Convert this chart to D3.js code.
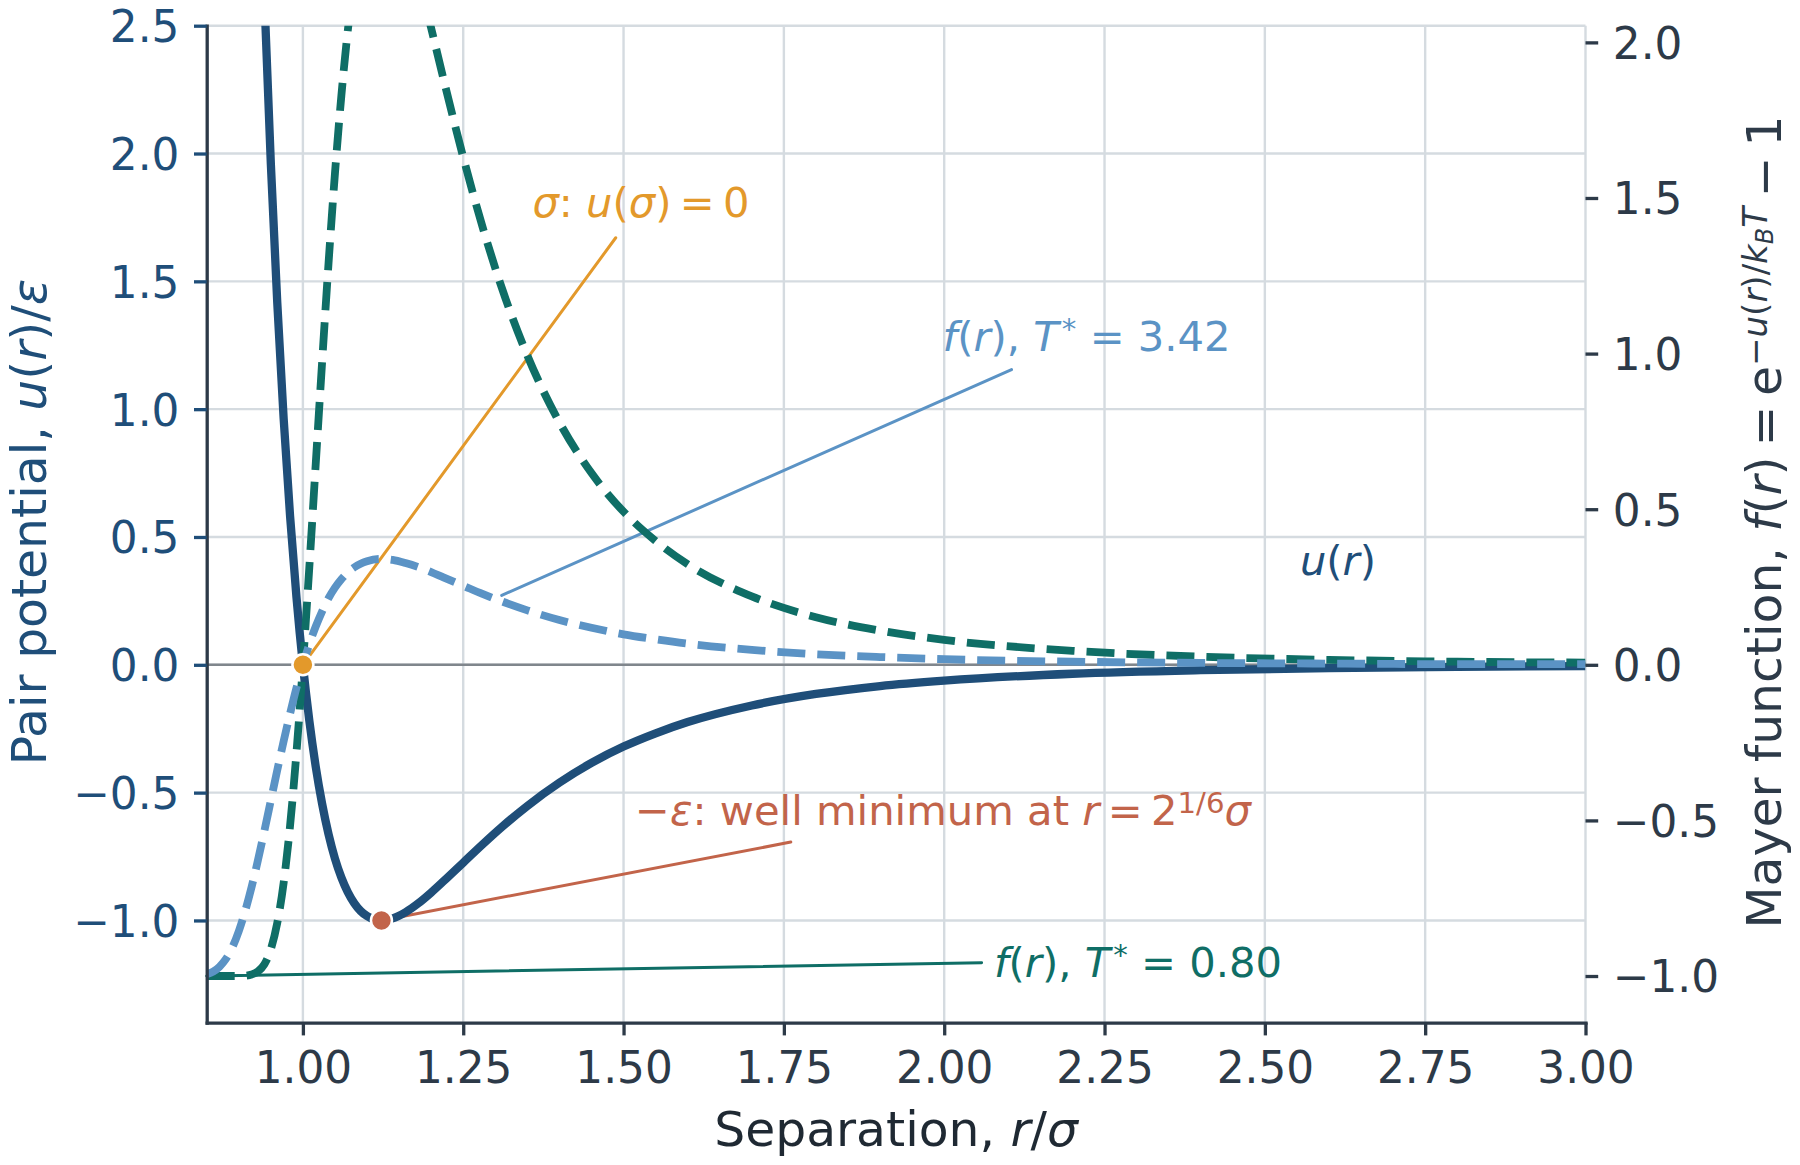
<!DOCTYPE html>
<html><head><meta charset="utf-8">
<script src="https://cdn.jsdelivr.net/npm/d3@7"></script>
<style>
html,body{margin:0;padding:0;background:#fff;}
svg{display:block;}
text{font-family:"DejaVu Sans",sans-serif;white-space:pre;}
</style>
</head><body>
<svg id="chart" width="1800" height="1165"></svg>
<script>
// ---------- data ----------
const rValues = [0.85,0.86,0.87,0.88,0.89,0.90,0.91,0.92,0.93,0.94,0.95,0.96,0.97,0.98,0.99,1.00,
  1.01,1.02,1.03,1.04,1.05,1.06,1.07,1.08,1.09,1.10,1.12,1.1225,1.14,1.16,1.18,1.20,1.22,1.25,1.28,1.31,
  1.35,1.40,1.45,1.50,1.55,1.60,1.70,1.80,1.90,2.00,2.20,2.40,2.60,2.80,3.00];
// pair potential u(r)/epsilon (left axis)
const uValues = [17.515,14.552,12.048,9.934,8.146,6.636,5.360,4.283,3.373,2.607,1.961,1.418,0.963,0.582,0.264,0.000,
  -0.218,-0.398,-0.544,-0.663,-0.758,-0.832,-0.889,-0.932,-0.963,-0.983,-1.000,-1.000,-0.992,-0.968,-0.933,-0.891,-0.845,-0.774,-0.703,-0.635,
  -0.552,-0.461,-0.384,-0.320,-0.268,-0.224,-0.159,-0.114,-0.083,-0.062,-0.035,-0.021,-0.013,-0.008,-0.005];
// Mayer function, T* = 0.80 (right axis)
const fLowT = [-1.000,-1.000,-1.000,-1.000,-1.000,-1.000,-0.999,-0.995,-0.985,-0.962,-0.914,-0.830,-0.700,-0.517,-0.281,0.000,
  0.313,0.645,0.974,1.291,1.579,1.829,2.038,2.206,2.333,2.417,2.490,2.490,2.456,2.353,2.210,2.046,1.876,1.631,1.408,1.212,
  0.994,0.779,0.616,0.492,0.398,0.323,0.220,0.153,0.110,0.080,0.045,0.026,0.016,0.010,0.007];
// Mayer function, T* = 3.42 (right axis)
const fHighT = [-0.994,-0.986,-0.970,-0.945,-0.908,-0.856,-0.791,-0.714,-0.627,-0.533,-0.436,-0.339,-0.245,-0.157,-0.074,0.000,
  0.066,0.123,0.172,0.214,0.248,0.275,0.297,0.313,0.325,0.333,0.340,0.340,0.337,0.327,0.314,0.298,0.280,0.254,0.228,0.204,
  0.175,0.144,0.119,0.098,0.082,0.068,0.048,0.034,0.025,0.018,0.010,0.006,0.004,0.002,0.002];

const xTicks = [1.00,1.25,1.50,1.75,2.00,2.25,2.50,2.75,3.00];
const leftTicks = [-1.0,-0.5,0.0,0.5,1.0,1.5,2.0,2.5];
const rightTicks = [-1.0,-0.5,0.0,0.5,1.0,1.5,2.0];
const xDomain = [0.85, 3.0];
const leftDomain = [-1.4, 2.5];
const rightDomain = [-1.15, 2.0536];

const sigmaPoint = [1.0, 0.0];
const minPoint = [1.1225, -1.0];

// ---------- style ----------
const C = {
  navy:"#1f4e79", teal:"#0f6e66", light:"#5b93c5", orange:"#e3992b", red:"#c2644a",
  dark:"#2d3a48", label:"#1f2933", grid:"#d5dbe0", zero:"#80868c"
};
const L = 206.7, R = 1585.5, T = 25.7, B = 1022.7;
const FT = 43.75, FL = 48.8, FA = 41.7;

const svg = d3.select("#chart");
const x = d3.scaleLinear().domain(xDomain).range([L, R]);
const yL = d3.scaleLinear().domain(leftDomain).range([B, T]);
const yR = d3.scaleLinear().domain(rightDomain).range([B, T]);

svg.append("defs").append("clipPath").attr("id","plotclip")
  .append("rect").attr("x",L).attr("y",T).attr("width",R-L).attr("height",B-T);

// grid
const grid = svg.append("g");
grid.selectAll("line.v").data(xTicks).join("line")
  .attr("x1",d=>x(d)).attr("x2",d=>x(d)).attr("y1",T).attr("y2",B)
  .attr("stroke",C.grid).attr("stroke-width",2.4);
grid.selectAll("line.h").data(leftTicks).join("line")
  .attr("x1",L).attr("x2",R).attr("y1",d=>yL(d)).attr("y2",d=>yL(d))
  .attr("stroke",C.grid).attr("stroke-width",2.4);

// zero line
svg.append("line").attr("x1",L).attr("x2",R).attr("y1",yL(0)).attr("y2",yL(0))
  .attr("stroke",C.zero).attr("stroke-width",2.6);

// helper for mathtext-like rich text
function rich(g, px, py, parts, color, size, anchor){
  const t = g.append("text").attr("x",px).attr("y",py).attr("fill",color)
    .attr("font-size",size).attr("text-anchor",anchor||"middle");
  let cur = 0;
  parts.forEach(p=>{
    const ts = t.append("tspan").text(p.t);
    if (p.i) ts.attr("font-style","italic");
    if (p.s) ts.attr("font-size",p.s);
    if (p.dx) ts.attr("dx",p.dx);
    const sh = p.sh||0;
    if (sh !== cur) ts.attr("dy", sh-cur);
    cur = sh;
  });
  return t;
}

// annotation lines (under curves)
const ann = [
  {color:C.orange, ys:yL, from:sigmaPoint, to:[1.4878,1.6705], tx:1.5272, ty:1.7526,
   parts:[{t:"σ",i:1},{t:": "},{t:"u",i:1},{t:"("},{t:"σ",i:1},{t:")\u2009=\u20090"}]},
  {color:C.light, ys:yR, from:[1.310,0.223], to:[2.105,0.9486], tx:2.222, ty:1.008,
   parts:[{t:"f",i:1},{t:"("},{t:"r",i:1},{t:"), "},{t:"T",i:1},{t:"*",s:FA*0.7,sh:-12,dx:3},{t:" = 3.42",sh:0}]},
  {color:C.red, ys:yL, from:minPoint, to:[1.7608,-0.6935], tx:1.9981, ty:-0.6282,
   parts:[{t:"−"},{t:"ε",i:1},{t:": well minimum at "},{t:"r",i:1},{t:"\u2009=\u20092"},{t:"1/6",s:FA*0.7,sh:-12},{t:"σ",i:1,sh:0}]},
  {color:C.teal, ys:yR, from:[0.85,-1.0], to:[2.0583,-0.957], tx:2.3022, ty:-1.0032,
   parts:[{t:"f",i:1},{t:"("},{t:"r",i:1},{t:"), "},{t:"T",i:1},{t:"*",s:FA*0.7,sh:-12,dx:3},{t:" = 0.80",sh:0}]}
];
const annG = svg.append("g");
ann.forEach(a=>{
  annG.append("line").attr("x1",x(a.from[0])).attr("y1",a.ys(a.from[1]))
    .attr("x2",x(a.to[0])).attr("y2",a.ys(a.to[1]))
    .attr("stroke",a.color).attr("stroke-width",3).attr("stroke-linecap","round");
});

// curves
const curves = svg.append("g").attr("clip-path","url(#plotclip)");
const idx = d3.range(rValues.length);
const lineU = d3.line().x(i=>x(rValues[i])).y(i=>yL(uValues[i])).curve(d3.curveMonotoneX);
const lineF1 = d3.line().x(i=>x(rValues[i])).y(i=>yR(fLowT[i])).curve(d3.curveMonotoneX);
const lineF2 = d3.line().x(i=>x(rValues[i])).y(i=>yR(fHighT[i])).curve(d3.curveMonotoneX);
curves.append("path").attr("d",lineU(idx)).attr("fill","none").attr("stroke",C.navy)
  .attr("stroke-width",8.3).attr("stroke-linejoin","round");
curves.append("path").attr("d",lineF1(idx)).attr("fill","none").attr("stroke",C.teal)
  .attr("stroke-width",7.8).attr("stroke-dasharray","28,12");
curves.append("path").attr("d",lineF2(idx)).attr("fill","none").attr("stroke",C.light)
  .attr("stroke-width",7.8).attr("stroke-dasharray","28,12");

// points
svg.append("circle").attr("cx",x(sigmaPoint[0])).attr("cy",yL(sigmaPoint[1])).attr("r",10.5)
  .attr("fill",C.orange).attr("stroke","#fff").attr("stroke-width",2.5);
svg.append("circle").attr("cx",x(minPoint[0])).attr("cy",yL(minPoint[1])).attr("r",10.5)
  .attr("fill",C.red).attr("stroke","#fff").attr("stroke-width",2.5);

// annotation texts
ann.forEach(a=>{ rich(svg, x(a.tx), a.ys(a.ty), a.parts, a.color, FA, "middle"); });
rich(svg, x(2.614), yL(0.3503), [{t:"u",i:1},{t:"("},{t:"r",i:1},{t:")"}], C.navy, FA, "middle");

// axes
const TS = 12.7, TP = 14.6;
const gB = svg.append("g").attr("transform",`translate(0,${B})`)
  .call(d3.axisBottom(x).tickValues(xTicks).tickFormat(d3.format(".2f")).tickSize(TS).tickSizeOuter(0));
gB.attr("color",C.dark).attr("font-family",null).attr("font-size",null);
gB.select(".domain").attr("stroke-width",3.3).attr("stroke-linecap","square");
gB.selectAll(".tick line").attr("stroke-width",3.3);
gB.selectAll(".tick text").attr("dy",null).attr("y",60.6).attr("font-size",FT).attr("fill",C.dark);

const gLf = svg.append("g").attr("transform",`translate(${L},0)`)
  .call(d3.axisLeft(yL).tickValues(leftTicks).tickFormat(d3.format(".1f")).tickSize(TS).tickSizeOuter(0));
gLf.attr("color",C.navy).attr("font-family",null).attr("font-size",null);
gLf.select(".domain").attr("stroke",C.dark).attr("stroke-width",3.3).attr("stroke-linecap","square");
gLf.selectAll(".tick line").attr("stroke-width",3.3);
gLf.selectAll(".tick text").attr("x",-(TS+TP)).attr("dy","0.3645em").attr("font-size",FT).attr("fill",C.navy);

const gRt = svg.append("g").attr("transform",`translate(${R},0)`)
  .call(d3.axisRight(yR).tickValues(rightTicks).tickFormat(d3.format(".1f")).tickSize(TS).tickSizeOuter(0));
gRt.attr("color",C.dark).attr("font-family",null).attr("font-size",null);
gRt.select(".domain").remove();
gRt.selectAll(".tick line").attr("stroke-width",3.3);
gRt.selectAll(".tick text").attr("x",TS+TP).attr("dy","0.3645em").attr("font-size",FT).attr("fill",C.dark);

// axis labels
rich(svg, (L+R)/2, 1146, [{t:"Separation, "},{t:"r",i:1},{t:"/"},{t:"σ",i:1}], C.label, FL, "middle");
const gl = svg.append("g").attr("transform",`translate(45.8,522) rotate(-90)`);
rich(gl, 0, 0, [{t:"Pair potential, "},{t:"u",i:1},{t:"("},{t:"r",i:1},{t:")/"},{t:"ε",i:1}], C.navy, FL, "middle");
const gr = svg.append("g").attr("transform",`translate(1781,522) rotate(-90)`);
rich(gr, 0, 0, [
  {t:"Mayer function, "},{t:"f",i:1},{t:"("},{t:"r",i:1},{t:")\u2009=\u2009e"},
  {t:"−",s:34,sh:-14},{t:"u",i:1,s:34,sh:-14},{t:"(",s:34,sh:-14},{t:"r",i:1,s:34,sh:-14},
  {t:")/",s:34,sh:-14},{t:"k",i:1,s:34,sh:-14},{t:"B",i:1,s:24,sh:-8},{t:"T",i:1,s:34,sh:-14},
  {t:"\u2009−\u20091",sh:0}
], C.dark, FL, "middle");
</script>
</body></html>
